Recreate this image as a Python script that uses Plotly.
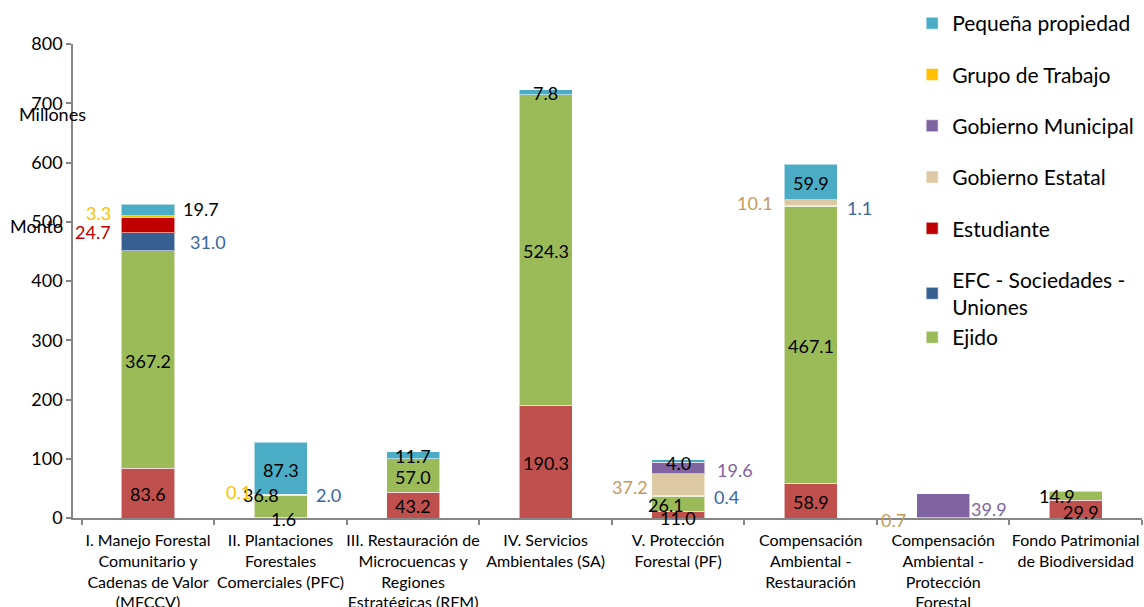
import plotly.graph_objects as go

categories = [
    "I. Manejo Forestal<br>Comunitario y<br>Cadenas de Valor<br>(MFCCV)",
    "II. Plantaciones<br>Forestales<br>Comerciales (PFC)",
    "III. Restauración de<br>Microcuencas y<br>Regiones<br>Estratégicas (RFM)",
    "IV. Servicios<br>Ambientales (SA)",
    "V. Protección<br>Forestal (PF)",
    "Compensación<br>Ambiental -<br>Restauración",
    "Compensación<br>Ambiental -<br>Protección<br>Forestal",
    "Fondo Patrimonial<br>de Biodiversidad",
]

# series values (millones), bottom to top; None = no segment
otros = [83.6, 1.6, 43.2, 190.3, 11.0, 58.9, None, 29.9]
ejido = [367.2, 36.8, 57.0, 524.3, 26.1, 467.1, None, 14.9]
efc = [31.0, 2.0, None, None, 0.4, 1.1, None, None]
estudiante = [24.7, None, None, None, None, None, None, None]
gob_estatal = [None, None, None, None, 37.2, 10.1, 0.7, None]
gob_municipal = [None, None, None, None, 19.6, None, 39.9, None]
grupo_trabajo = [3.3, 0.1, None, None, None, None, None, None]
pequena = [19.7, 87.3, 11.7, 7.8, 4.0, 59.9, None, None]

yticks = [0, 100, 200, 300, 400, 500, 600, 700, 800]

# (name, values, fill colour, label colour, in legend, legend group, legend rank)
series = [
    ("Otros", otros, "#C0504D", "#000000", False, "g0", 99),
    ("Ejido", ejido, "#9BBB59", "#000000", True, "g1", 7),
    ("EFC - Sociedades -<br>Uniones", efc, "#376092", "#3A66A0", True, "g1", 6),
    ("Estudiante", estudiante, "#C00000", "#C00000", True, "g2", 5),
    ("Gobierno Estatal", gob_estatal, "#DDC9A3", "#C49A5C", True, "g3", 4),
    ("Gobierno Municipal", gob_municipal, "#8064A2", "#8064A2", True, "g4", 3),
    ("Grupo de Trabajo", grupo_trabajo, "#FFC000", "#FFC000", True, "g5", 2),
    ("Pequeña propiedad", pequena, "#4BACC6", "#000000", True, "g6", 1),
]

# label placement: (series index, category index) -> (xanchor, xshift px, yshift px)
label_pos = {
    (2, 0): ("left", 40, 0), (3, 0): ("right", -35, -7), (6, 0): ("right", -35, 4), (7, 0): ("left", 33, 1),
    (6, 1): ("right", -28, 2), (1, 1): ("center", -20, 11), (0, 1): ("center", 3, -1), (2, 1): ("left", 33, 0),
    (7, 1): ("center", 0, -2),
    (0, 4): ("center", 0, -3), (1, 4): ("center", -12, -1), (2, 4): ("left", 34, -1),
    (4, 4): ("right", -28, -2), (5, 4): ("left", 37, -2), (7, 4): ("center", 0, -2),
    (2, 5): ("left", 34, -2), (4, 5): ("right", -36, 0),
    (4, 6): ("right", -35, -2), (5, 6): ("left", 26, -3),
    (0, 7): ("center", 5, -3), (1, 7): ("center", -19, 0),
}

FONT = "Lato"
fig = go.Figure()
annotations = []
base = [0.0] * len(categories)
for si, (name, vals, color, lcolor, show, grp, rank) in enumerate(series):
    fig.add_trace(go.Bar(
        name=name, x=categories, y=vals, marker_color=color,
        marker_line=dict(color="rgba(255,255,255,0.55)", width=1),
        showlegend=show, legendgroup=grp, legendrank=rank,
    ))
    for ci, v in enumerate(vals):
        if v is None:
            continue
        xa, xs, ys = label_pos.get((si, ci), ("center", 0, -1))
        annotations.append(dict(
            x=categories[ci], y=base[ci] + v / 2, xref="x", yref="y",
            text=f"{v:.1f}", showarrow=False, xanchor=xa, yanchor="middle",
            xshift=xs, yshift=ys, font=dict(family=FONT, size=18, color=lcolor),
        ))
        base[ci] += v

annotations.append(dict(x=-0.019, y=0.852, xref="paper", yref="paper", text="Millones",
                        xanchor="center", yanchor="middle",
                        showarrow=False, font=dict(family=FONT, size=18, color="#000000")))
annotations.append(dict(x=-0.034, y=0.617, xref="paper", yref="paper", text="Monto",
                        xanchor="center", yanchor="middle",
                        showarrow=False, font=dict(family=FONT, size=18, color="#000000")))

fig.update_layout(
    template="none",
    barmode="stack",
    bargap=0.6,
    width=1144, height=607,
    margin=dict(l=73, r=2, t=44, b=89, autoexpand=False),
    paper_bgcolor="white", plot_bgcolor="white",
    font=dict(family=FONT, size=16, color="#000000"),
    annotations=annotations,
    legend=dict(
        x=0.785, y=1.0865, xanchor="left", yanchor="top",
        traceorder="grouped", tracegroupgap=21, maxheight=600,
        font=dict(family=FONT, size=21, color="#000000"),
        bgcolor="rgba(0,0,0,0)",
    ),
    xaxis=dict(
        type="category", showline=True, linecolor="#868686", linewidth=1.5,
        ticks="outside", tickson="boundaries", ticklen=5, tickcolor="#868686",
        tickwidth=1.5, showgrid=False, zeroline=False, automargin=False,
        tickangle=0, ticklabelstandoff=7,
        tickfont=dict(family=FONT, size=16, color="#000000"),
    ),
    yaxis=dict(
        range=[0, 800], tickvals=yticks, ticktext=[str(t) for t in yticks],
        showline=True, linecolor="#868686", linewidth=1.5,
        ticks="outside", ticklen=5, tickcolor="#868686", tickwidth=1.5,
        showgrid=False, zeroline=False, automargin=False,
        ticklabelstandoff=0,
        tickfont=dict(family=FONT, size=18, color="#000000"),
    ),
)

fig.write_html(
    "out.html",
    config={"displayModeBar": False},
    post_script="document.body.style.margin='0';document.body.style.overflow='hidden';",
)
